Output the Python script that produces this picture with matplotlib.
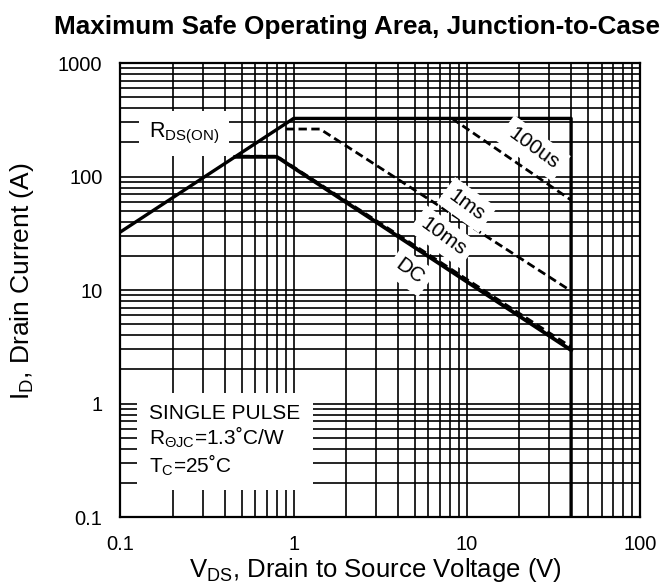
import matplotlib
matplotlib.use("Agg")
import matplotlib.pyplot as plt
from matplotlib.ticker import LogLocator, FixedLocator, FixedFormatter, NullFormatter

plt.rcParams['font.family'] = ['Liberation Sans', 'DejaVu Sans']
plt.rcParams['mathtext.fontset'] = 'custom'
plt.rcParams['mathtext.rm'] = 'Liberation Sans'
plt.rcParams['mathtext.it'] = 'Liberation Sans'
plt.rcParams['mathtext.default'] = 'regular'

# limit lines (V, A)
limit_v = [0.1, 1.0, 40, 40]
limit_i = [32.5, 325, 325, 0.1]

us100_v = [8.2, 40]
us100_i = [325, 62]

ms1_v = [0.9, 1.42, 40]
ms1_i = [262, 262, 9.8]

ms10_v = [0.5, 0.8, 40]
ms10_i = [151, 151, 3.15]

dc_v = [0.46, 0.8, 40]
dc_i = [149, 149, 2.95]

# curve labels: text, V, I
curve_labels = ["100us", "1ms", "10ms", "DC"]
label_v = [24.2, 10.0, 7.3, 4.7]
label_i = [177, 56, 29.5, 14.5]

x_ticks = [0.1, 1, 10, 100]
x_tick_labels = ["0.1", "1", "10", "100"]
y_ticks = [0.1, 1, 10, 100, 1000]
y_tick_labels = ["0.1", "1", "10", "100", "1000"]

fig = plt.figure(figsize=(6.72, 5.84), dpi=100)
ax = fig.add_axes([0.1793, 0.1147, 0.7731, 0.7774])

ax.set_xscale("log")
ax.set_yscale("log")
ax.set_xlim(0.1, 100)
ax.set_ylim(0.1, 1000)

ax.xaxis.set_major_locator(FixedLocator(x_ticks))
ax.xaxis.set_major_formatter(FixedFormatter(x_tick_labels))
ax.yaxis.set_major_locator(FixedLocator(y_ticks))
ax.yaxis.set_major_formatter(FixedFormatter(y_tick_labels))
ax.xaxis.set_minor_locator(LogLocator(base=10, subs=range(2, 10)))
ax.yaxis.set_minor_locator(LogLocator(base=10, subs=range(2, 10)))
ax.xaxis.set_minor_formatter(NullFormatter())
ax.yaxis.set_minor_formatter(NullFormatter())
ax.tick_params(which="both", length=0, labelsize=14.5, pad=13)

ax.set_axisbelow(True)
ax.grid(which="both", color="black", lw=1.2)
for s in ax.spines.values():
    s.set_linewidth(1.6)

ax.plot(limit_v, limit_i, color="black", lw=2.4, zorder=2)
ax.plot(us100_v, us100_i, color="black", lw=2.0, dashes=(3, 1.6), zorder=2)
ax.plot(ms1_v, ms1_i, color="black", lw=2.0, dashes=(3, 1.6), zorder=2)
ax.plot(dc_v, dc_i, color="black", lw=2.7, zorder=2)
ax.plot(ms10_v, ms10_i, color="black", lw=2.0, dashes=(3, 1.6), zorder=2)

for t, v, i in zip(curve_labels, label_v, label_i):
    ax.text(v, i, t, fontsize=15, rotation=-36, ha="center", va="center",
            rotation_mode="anchor", zorder=4,
            bbox=dict(boxstyle="square,pad=0.3", fc="white", ec="none"))

ax.text(0.055, 0.845, "$R_{DS(ON)}$", transform=ax.transAxes, fontsize=15.5,
        ha="left", va="center", zorder=4,
        bbox=dict(boxstyle="square,pad=0.45", fc="white", ec="none"))

ax.text(0.055, 0.168, "SINGLE PULSE\n$R_{\u0398JC}$=1.3\u02daC/W\n$T_C$=25\u02daC",
        transform=ax.transAxes, fontsize=15, ha="left", va="center",
        linespacing=1.1, zorder=4,
        bbox=dict(boxstyle="square,pad=0.6", fc="white", ec="none"))

ax.set_xlabel("$V_{DS}$, Drain to Source Voltage (V)", fontsize=18.5)
ax.xaxis.set_label_coords(0.49, -0.085)
ax.set_ylabel("$I_D$, Drain Current (A)", fontsize=19)
ax.yaxis.set_label_coords(-0.162, 0.52)

fig.text(0.531, 0.954, "Maximum Safe Operating Area, Junction-to-Case",
         fontsize=18.8, fontweight="bold", ha="center", va="center")

fig.savefig("out.png", dpi=100)
